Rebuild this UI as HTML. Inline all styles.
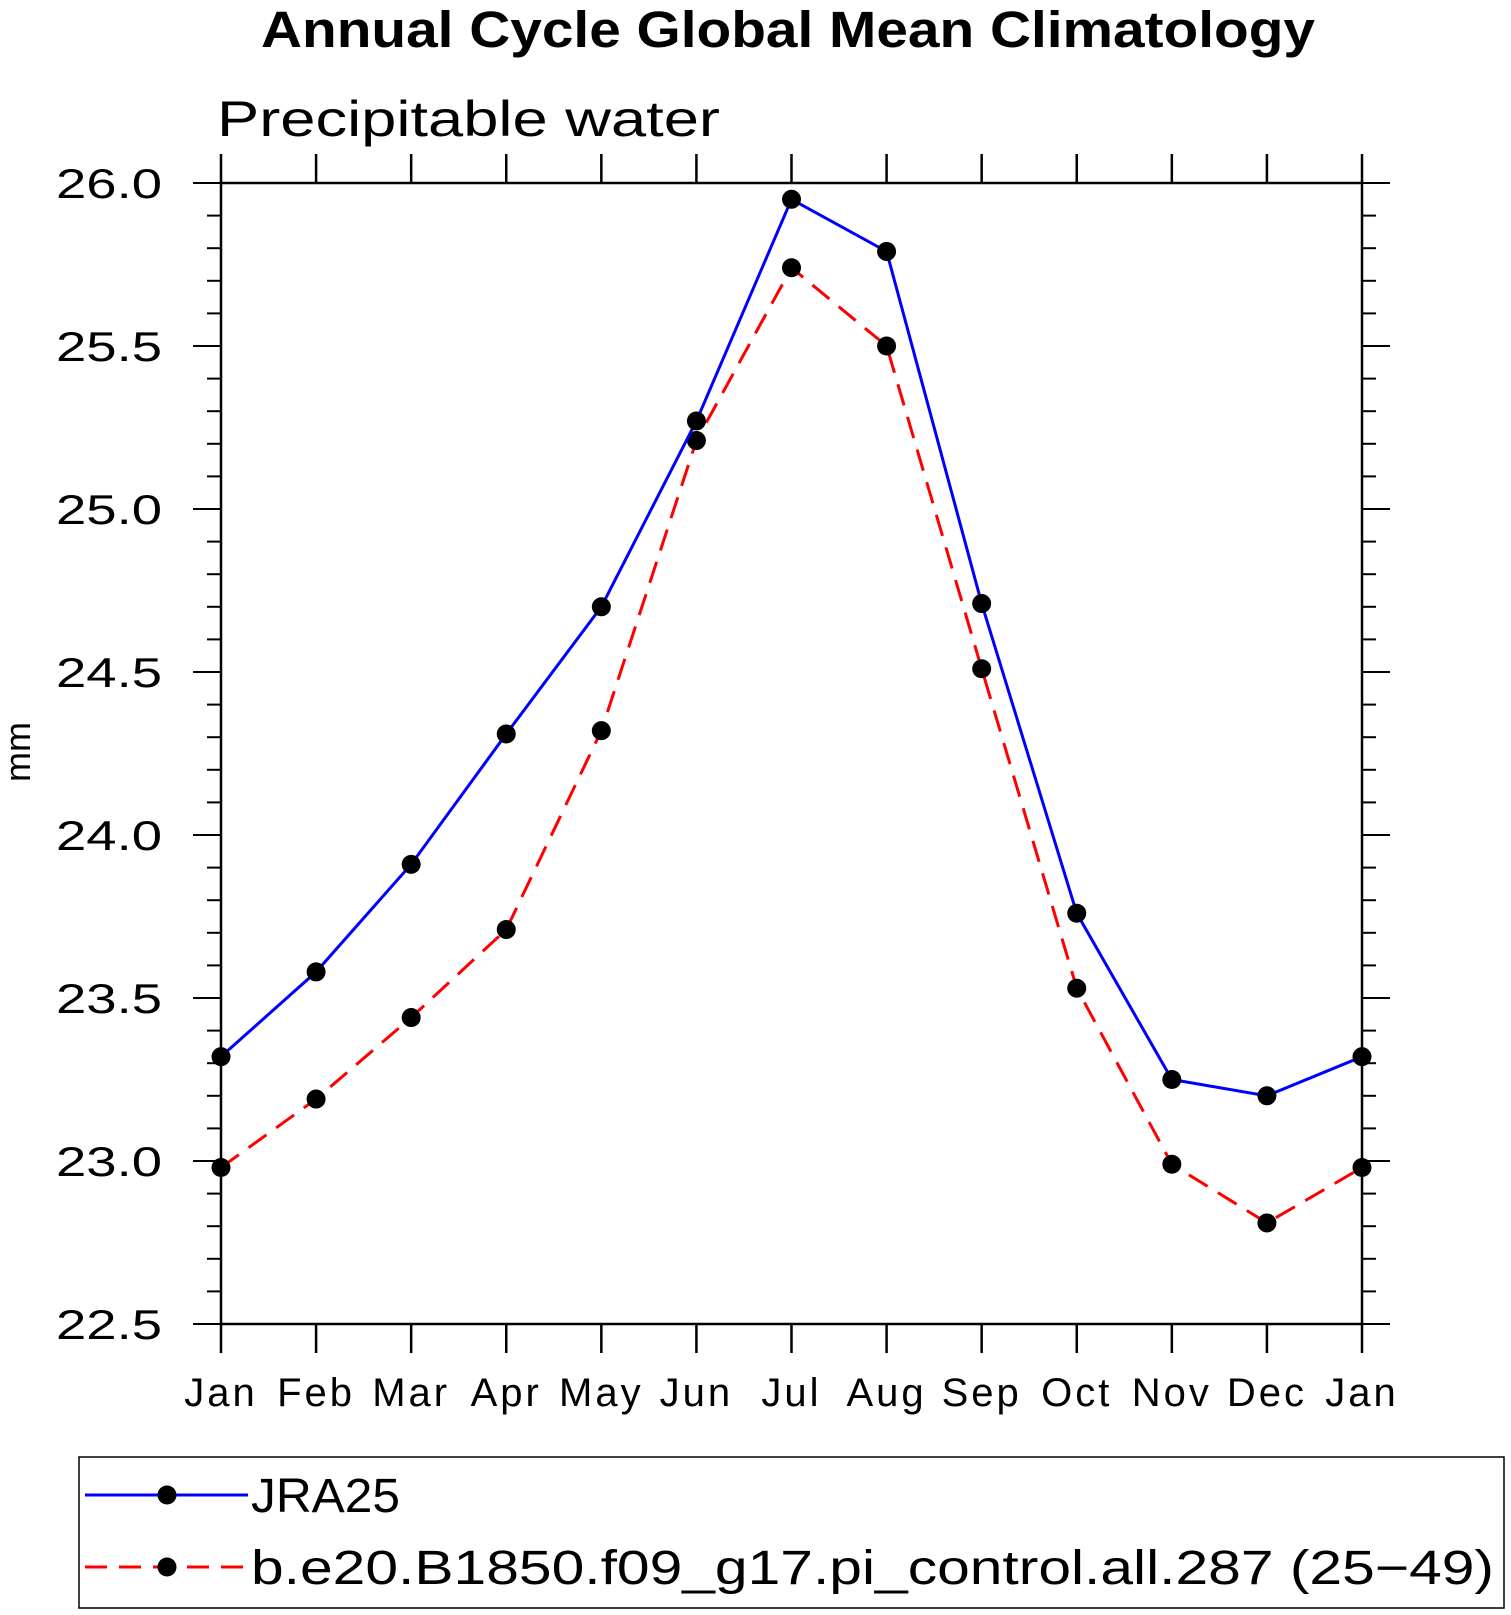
<!DOCTYPE html>
<html><head><meta charset="utf-8"><style>
html,body{margin:0;padding:0;background:#fff;}
svg{display:block;font-family:"Liberation Sans",sans-serif;}
</style></head><body>
<svg id="chart" width="1511" height="1615" viewBox="0 0 1511 1615">
<text x="261" y="47" font-size="51" font-weight="bold" textLength="1054" lengthAdjust="spacingAndGlyphs">Annual Cycle Global Mean Climatology</text>
<text x="217" y="136" font-size="50" textLength="503" lengthAdjust="spacingAndGlyphs">Precipitable water</text>
<text transform="translate(30,752) rotate(-90)" text-anchor="middle" font-size="36">mm</text>
<g id="axes"></g>
<g id="series"></g>
<rect x="79" y="1457" width="1425" height="151" fill="none" stroke="#000" stroke-width="1.5"/>
<g>
<line x1="85" y1="1495" x2="248" y2="1495" stroke="#0000ff" stroke-width="3"/>
<circle cx="167" cy="1495" r="9.5" fill="#000"/>
<text x="251" y="1512" font-size="48" textLength="149" lengthAdjust="spacingAndGlyphs">JRA25</text>
</g>
<g>
<line x1="85" y1="1567" x2="248" y2="1567" stroke="#ff0000" stroke-width="3" stroke-dasharray="22,12"/>
<circle cx="167" cy="1567" r="9.5" fill="#000"/>
<text x="251" y="1584" font-size="48" textLength="1243" lengthAdjust="spacingAndGlyphs">b.e20.B1850.f09_g17.pi_control.all.287 (25−49)</text>
</g>
</svg>
<script>
const months = ["Jan","Feb","Mar","Apr","May","Jun","Jul","Aug","Sep","Oct","Nov","Dec","Jan"];
const jra25 = [23.32,23.58,23.91,24.31,24.70,25.27,25.95,25.79,24.71,23.76,23.25,23.20,23.32];
const model = [22.98,23.19,23.44,23.71,24.32,25.21,25.74,25.50,24.51,23.53,22.99,22.81,22.98];
const yTicks = ["22.5","23.0","23.5","24.0","24.5","25.0","25.5","26.0"];
const NS="http://www.w3.org/2000/svg";
const L=221,R=1362,T=183,B=1324,yMin=22.5,yMax=26.0;
const xs=i=>L+(R-L)*i/(months.length-1);
const ys=v=>B-(B-T)*(v-yMin)/(yMax-yMin);
function mk(tag,attrs,parent){const e=document.createElementNS(NS,tag);for(const k in attrs)e.setAttribute(k,attrs[k]);parent.appendChild(e);return e;}
const ax=document.getElementById('axes');
const frame=mk('rect',{x:L,y:T,width:R-L,height:B-T,fill:'none',stroke:'#000','stroke-width':2.5},ax);


months.forEach((m,i)=>{
  const x=xs(i);
  mk('line',{x1:x,y1:T-29,x2:x,y2:T,stroke:'#000','stroke-width':2.5},ax);
  mk('line',{x1:x,y1:B,x2:x,y2:B+29,stroke:'#000','stroke-width':2.5},ax);
  const t=mk('text',{x:x,y:1406,'text-anchor':'middle','font-size':40,'letter-spacing':3},ax);
  t.textContent=m;
  
  
});
for(let k=0;k<=35;k++){
  const v=yMin+k*0.1,y=ys(v),major=k%5===0,len=major?28:14;
  mk('line',{x1:L-len,y1:y,x2:L,y2:y,stroke:'#000','stroke-width':2},ax);
  mk('line',{x1:R,y1:y,x2:R+len,y2:y,stroke:'#000','stroke-width':2},ax);
}
yTicks.forEach(s=>{
  const t=mk('text',{x:56,y:ys(parseFloat(s))+15,'font-size':42,textLength:106,lengthAdjust:'spacingAndGlyphs'},ax);
  t.textContent=s;
  
  
});
const sg=document.getElementById('series');
function draw(vals,color,dash,name){
  const pts=vals.map((v,i)=>xs(i)+','+ys(v)).join(' ');
  const pl=mk('polyline',{points:pts,fill:'none',stroke:color,'stroke-width':3},sg);
  if(dash)pl.setAttribute('stroke-dasharray',dash);
  
  
  vals.forEach((v,i)=>{
    const c=mk('circle',{cx:xs(i),cy:ys(v),r:9.5,fill:'#000'},sg);
    
    
  });
}
draw(model,'#ff0000','22,12','model');
draw(jra25,'#0000ff',null,'jra25');
</script>
</body></html>
